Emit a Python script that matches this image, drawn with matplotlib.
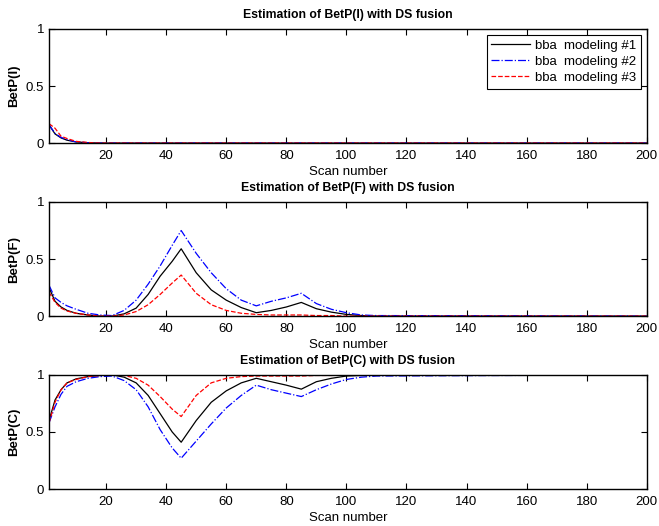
import matplotlib
matplotlib.use("Agg")
from matplotlib import pyplot as plt

plt.rcParams['font.family'] = ['Liberation Sans', 'DejaVu Sans']

scans = [1, 3, 5, 7, 10, 14, 18, 22, 26, 30, 34, 38, 42, 45, 50, 55, 60, 65,
         70, 75, 80, 85, 90, 95, 100, 105, 110, 200]

labels = ['bba  modeling #1', 'bba  modeling #2', 'bba  modeling #3']

# BetP(I)
betp_i_1 = [0.16, 0.08, 0.045, 0.025, 0.01, 0.003, 0, 0, 0, 0, 0, 0, 0, 0,
            0, 0, 0, 0, 0, 0, 0, 0, 0, 0, 0, 0, 0, 0]
betp_i_2 = [0.16, 0.085, 0.05, 0.03, 0.01, 0.003, 0, 0, 0, 0, 0, 0, 0, 0,
            0, 0, 0, 0, 0, 0, 0, 0, 0, 0, 0, 0, 0, 0]
betp_i_3 = [0.17, 0.13, 0.06, 0.04, 0.015, 0.005, 0, 0, 0, 0, 0, 0, 0, 0,
            0, 0, 0, 0, 0, 0, 0, 0, 0, 0, 0, 0, 0, 0]

# BetP(F)
betp_f_1 = [0.25, 0.13, 0.08, 0.05, 0.025, 0.01, 0.0, 0.0, 0.02, 0.07, 0.19,
            0.35, 0.48, 0.59, 0.38, 0.23, 0.14, 0.075, 0.03, 0.05, 0.08, 0.12,
            0.065, 0.035, 0.015, 0.005, 0, 0]
betp_f_2 = [0.27, 0.16, 0.12, 0.09, 0.06, 0.025, 0.01, 0.005, 0.05, 0.14, 0.28,
            0.44, 0.62, 0.75, 0.55, 0.38, 0.24, 0.14, 0.09, 0.13, 0.16, 0.20,
            0.11, 0.06, 0.03, 0.01, 0.005, 0]
betp_f_3 = [0.21, 0.12, 0.07, 0.045, 0.025, 0.01, 0.0, 0.0, 0.01, 0.04, 0.10,
            0.19, 0.29, 0.36, 0.20, 0.10, 0.05, 0.025, 0.015, 0.01, 0.01, 0.01,
            0.005, 0.005, 0, 0, 0, 0]

# BetP(C)
betp_c_1 = [0.60, 0.78, 0.87, 0.93, 0.965, 0.985, 0.995, 1.0, 0.98, 0.93, 0.82,
            0.66, 0.50, 0.41, 0.60, 0.76, 0.86, 0.93, 0.97, 0.94, 0.91, 0.875,
            0.94, 0.97, 0.99, 0.995, 1, 1]
betp_c_2 = [0.58, 0.72, 0.83, 0.90, 0.94, 0.97, 0.985, 0.99, 0.95, 0.87, 0.72,
            0.52, 0.36, 0.27, 0.42, 0.57, 0.71, 0.82, 0.91, 0.87, 0.84, 0.81,
            0.87, 0.92, 0.96, 0.98, 0.99, 1]
betp_c_3 = [0.58, 0.76, 0.87, 0.93, 0.96, 0.985, 0.995, 1.0, 0.995, 0.97, 0.91,
            0.81, 0.70, 0.635, 0.82, 0.93, 0.97, 0.985, 0.99, 0.99, 0.99, 0.99,
            0.995, 0.995, 1, 1, 1, 1]

panels = [
    ('BetP(I)', 'Estimation of BetP(I) with DS fusion', [betp_i_1, betp_i_2, betp_i_3]),
    ('BetP(F)', 'Estimation of BetP(F) with DS fusion', [betp_f_1, betp_f_2, betp_f_3]),
    ('BetP(C)', 'Estimation of BetP(C) with DS fusion', [betp_c_1, betp_c_2, betp_c_3]),
]

styles = [dict(color='black', linestyle='-'),
          dict(color='blue', linestyle='-.'),
          dict(color='red', linestyle='--')]

fig = plt.figure(figsize=(6.59, 5.26), dpi=100)
bottoms = [0.728, 0.399, 0.0703]

for i, (ylab, title, series) in enumerate(panels):
    ax = fig.add_axes([0.0744, bottoms[i], 0.907, 0.217])
    for ys, st, lab in zip(series, styles, labels):
        ax.plot(scans, ys, linewidth=0.9, label=lab, **st)
    ax.set_xlim(1, 200)
    ax.set_ylim(0, 1)
    ax.set_xticks(range(20, 201, 20))
    ax.set_yticks([0, 0.5, 1])
    ax.set_yticklabels(['0', '0.5', '1'])
    ax.tick_params(direction='in', top=True, right=True, labelsize=9.5, length=4, width=0.8)
    ax.tick_params(axis='x', pad=5)
    for sp in ax.spines.values():
        sp.set_linewidth(1.0)
    ax.set_xlabel('Scan number', fontsize=9.5, labelpad=3)
    ax.set_ylabel(ylab, fontsize=9.5, fontweight='bold', labelpad=4)
    ax.set_title(title, fontsize=8.8, fontweight='bold', pad=8)
    if i == 0:
        leg = ax.legend(loc='upper right', fontsize=9.5, fancybox=False,
                        framealpha=1, edgecolor='black', borderaxespad=0.45,
                        handlelength=2.9, handletextpad=0.4, borderpad=0.35,
                        labelspacing=0.3)
        leg.get_frame().set_linewidth(0.8)

fig.savefig('out.png', dpi=100)
